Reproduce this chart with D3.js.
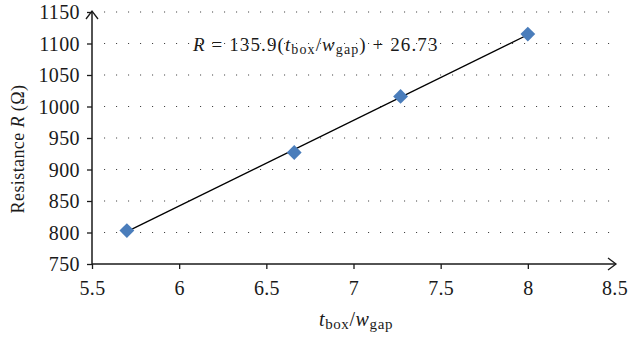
<!DOCTYPE html>
<html><head><meta charset="utf-8">
<script src="https://cdn.jsdelivr.net/npm/d3@7"></script>
<style>body{margin:0;background:#fff}svg{display:block}text{font-family:"Liberation Serif","DejaVu Serif",serif;fill:#1a1a1a}</style>
</head><body>
<script>
const ratio = [5.70, 6.66, 7.27, 8.00];
const resistance = [803, 927, 1016, 1115];
const xTicks = [5.5, 6, 6.5, 7, 7.5, 8, 8.5];
const yTicks = [750, 800, 850, 900, 950, 1000, 1050, 1100, 1150];
const slope = 135.9, intercept = 26.73;

const W = 631, H = 343;
const svg = d3.select("body").append("svg").attr("width", W).attr("height", H);
const x = d3.scaleLinear().domain([5.5, 8.5]).range([92, 615]);
const y = d3.scaleLinear().domain([750, 1150]).range([264, 12]);
const ink = "#1a1a1a";

// grid
svg.append("g").selectAll("line").data(yTicks.slice(1)).join("line")
  .attr("x1", 104).attr("x2", 611).attr("y1", d => y(d)).attr("y2", d => y(d))
  .attr("stroke", "#444").attr("stroke-width", 1.1).attr("stroke-dasharray", "1.1 10.9");

// axes
const xAxis = svg.append("g").attr("transform", `translate(0,${y(750)})`)
  .call(d3.axisBottom(x).tickValues(xTicks.slice(0, -1)).tickSize(5).tickFormat(d3.format("")).tickSizeOuter(0));
xAxis.select(".domain").remove();
xAxis.selectAll(".tick line").attr("stroke", ink).attr("stroke-width", 1.3);
xAxis.selectAll(".tick text").attr("font-size", 20).attr("dy", 0).attr("y", 31).attr("fill", ink).attr("letter-spacing", 0.3);
svg.append("text").attr("x", x(8.5)).attr("y", y(750) + 31).attr("text-anchor", "middle")
  .attr("font-size", 20).attr("letter-spacing", 0.3).text("8.5");

const yAxis = svg.append("g").attr("transform", `translate(${x(5.5)},0)`)
  .call(d3.axisLeft(y).tickValues(yTicks).tickSize(5).tickFormat(d3.format("d")).tickSizeOuter(0));
yAxis.select(".domain").remove();
yAxis.selectAll(".tick line").attr("stroke", ink).attr("stroke-width", 1.3);
yAxis.selectAll(".tick text").attr("font-size", 20).attr("x", -12).attr("dy", "0.33em").attr("fill", ink).attr("letter-spacing", 0.4);

// axis lines with arrows
svg.append("line").attr("x1", x(5.5)).attr("x2", x(8.5) + 1).attr("y1", y(750)).attr("y2", y(750))
  .attr("stroke", ink).attr("stroke-width", 1.5);
svg.append("path").attr("d", `M${x(8.5) - 7},${y(750) - 6} L${x(8.5) + 1},${y(750)} L${x(8.5) - 7},${y(750) + 6}`)
  .attr("fill", "none").attr("stroke", ink).attr("stroke-width", 1.3);
svg.append("line").attr("x1", x(5.5)).attr("x2", x(5.5)).attr("y1", y(750)).attr("y2", y(1150) - 1)
  .attr("stroke", ink).attr("stroke-width", 1.5);
svg.append("path").attr("d", `M${x(5.5) - 6},${y(1150) + 7} L${x(5.5)},${y(1150) - 1} L${x(5.5) + 6},${y(1150) + 7}`)
  .attr("fill", "none").attr("stroke", ink).attr("stroke-width", 1.3);

// trendline
const x0 = d3.min(ratio), x1 = d3.max(ratio);
svg.append("line").attr("x1", x(x0)).attr("y1", y(slope * x0 + intercept))
  .attr("x2", x(x1)).attr("y2", y(slope * x1 + intercept)).attr("stroke", "#000").attr("stroke-width", 1.3);

// markers
svg.append("g").selectAll("path").data(ratio.map((r, i) => [r, resistance[i]])).join("path")
  .attr("d", d3.symbol(d3.symbolSquare, 110)())
  .attr("transform", d => `translate(${x(d[0])},${y(d[1])}) rotate(45)`)
  .attr("fill", "#4a7dbb");

// equation
const eq = svg.append("text").attr("x", 193).attr("y", 51).attr("font-size", 19).attr("letter-spacing", 1.1);
eq.append("tspan").attr("font-style", "italic").text("R");
eq.append("tspan").text(" = 135.9(");
eq.append("tspan").attr("font-style", "italic").text("t");
eq.append("tspan").attr("font-size", 14).attr("dy", 3).text("box");
eq.append("tspan").attr("dy", -3).text("/");
eq.append("tspan").attr("font-style", "italic").text("w");
eq.append("tspan").attr("font-size", 14).attr("dy", 3).text("gap");
eq.append("tspan").attr("dy", -3).text(") + 26.73");

// x title
const xt = svg.append("text").attr("x", 356).attr("y", 326).attr("text-anchor", "middle").attr("font-size", 20).attr("letter-spacing", 0.6);
xt.append("tspan").attr("font-style", "italic").text("t");
xt.append("tspan").attr("font-size", 15).attr("dy", 3).text("box");
xt.append("tspan").attr("dy", -3).text("/");
xt.append("tspan").attr("font-style", "italic").text("w");
xt.append("tspan").attr("font-size", 15).attr("dy", 3).text("gap");

// y title
const yt = svg.append("text").attr("transform", "translate(24,149) rotate(-90)").attr("text-anchor", "middle").attr("font-size", 18).attr("letter-spacing", 0.4);
yt.append("tspan").text("Resistance ");
yt.append("tspan").attr("font-style", "italic").text("R");
yt.append("tspan").text(" (Ω)");
</script>
</body></html>
